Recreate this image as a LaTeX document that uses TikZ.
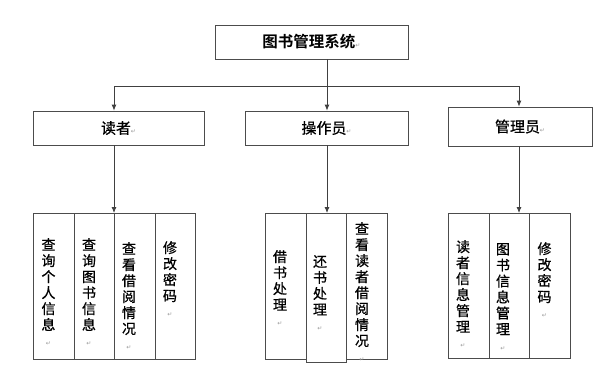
\documentclass[tikz,border=0pt]{standalone}
\usepackage{fontspec}
\usepackage{xcolor}
\usepackage{tikz}
\usetikzlibrary{arrows.meta}
\newfontfamily\cjk[FakeBold=0.8]{Noto Sans CJK SC}
\newfontfamily\cjkb{Noto Sans CJK SC Bold}
\newfontfamily\symf{DejaVu Sans}
\newcommand{\retmark}{{\symf\fontsize{6}{6}\selectfont\color{black!40}↵}}

\begin{document}
\begin{tikzpicture}[x=1pt,y=-1pt,
  box/.style={draw=black!70,line width=0.8pt,inner sep=0pt},
  col/.style={draw=black!70,line width=0.8pt,inner sep=0pt,minimum width=40.5pt,anchor=north west},
  coltext/.style={font=\cjk\fontsize{14}{16}\selectfont,align=center,anchor=north,inner sep=0pt},
  boxtext/.style={font=\cjk\fontsize{15}{16}\selectfont},
  link/.style={draw=black!75,line width=0.8pt},
  arr/.style={link,-{Latex[length=6pt,width=5pt]}}]
  \useasboundingbox (0,0) rectangle (600,370);
  % top and middle boxes
  \node[box,minimum width=193pt,minimum height=34pt,font=\cjkb\fontsize{15.5}{16}\selectfont] (sys) at (311.5,42) {图书管理系统\retmark};
  \node[box,minimum width=171pt,minimum height=34pt,boxtext] (reader) at (118.5,128) {读者\retmark};
  \node[box,minimum width=163pt,minimum height=34pt,boxtext] (oper) at (326.5,128) {操作员\retmark};
  \node[box,minimum width=144pt,minimum height=39pt,boxtext] (admin) at (520,126.5) {管理员\retmark};
  % bus line
  \coordinate (busL) at (114,86);
  \coordinate (busM) at (327,86);
  \coordinate (busR) at (519,86);
  \draw[link] (sys.south -| busM) -- (busM);
  \draw[link] (busL) -- (busR);
  \draw[arr] (busL) -- (reader.north -| busL);
  \draw[arr] (busM) -- (oper.north -| busM);
  \draw[arr] (busR) -- (admin.north -| busR);
  % reader columns
  \node[col,minimum height=146pt] (r1) at (33,213) {};
  \node[col,minimum height=146pt] (r2) at (73.5,213) {};
  \node[col,minimum height=146pt] (r3) at (114,213) {};
  \node[col,minimum height=146pt] (r4) at (154.5,213) {};
  \node[coltext] (r1t) at (48.5,238) {查\\询\\个\\人\\信\\息\\\retmark};
  \node[coltext] (r2t) at (89,238) {查\\询\\图\\书\\信\\息\\\retmark};
  \node[coltext] (r3t) at (129,242) {查\\看\\借\\阅\\情\\况\\\retmark};
  \node[coltext] (r4t) at (170,241) {修\\改\\密\\码\\\retmark};
  % operator columns
  \node[col,minimum height=146pt] (o1) at (265,213) {};
  \node[col,minimum height=149pt] (o2) at (305.5,213) {};
  \node[col,minimum height=146pt] (o3) at (346,213) {};
  \node[coltext] (o1t) at (280,250) {借\\书\\处\\理\\\retmark};
  \node[coltext] (o2t) at (320,255) {还\\书\\处\\理\\\retmark};
  \node[coltext] (o3t) at (362,222) {查\\看\\读\\者\\借\\阅\\情\\况\\\retmark};
  % admin columns
  \node[col,minimum height=145pt] (a1) at (448,213) {};
  \node[col,minimum height=145pt] (a2) at (488.5,213) {};
  \node[col,minimum height=145pt] (a3) at (529,213) {};
  \node[coltext] (a1t) at (463,240) {读\\者\\信\\息\\管\\理\\\retmark};
  \node[coltext] (a2t) at (503,243) {图\\书\\信\\息\\管\\理\\\retmark};
  \node[coltext] (a3t) at (544.5,242) {修\\改\\密\\码\\\retmark};
  % arrows to columns
  \draw[arr] (reader.south -| busL) -- (busL |- r1.north);
  \draw[arr] (oper.south -| busM) -- (busM |- o1.north);
  \draw[arr] (admin.south -| busR) -- (busR |- a1.north);
\end{tikzpicture}
\end{document}
